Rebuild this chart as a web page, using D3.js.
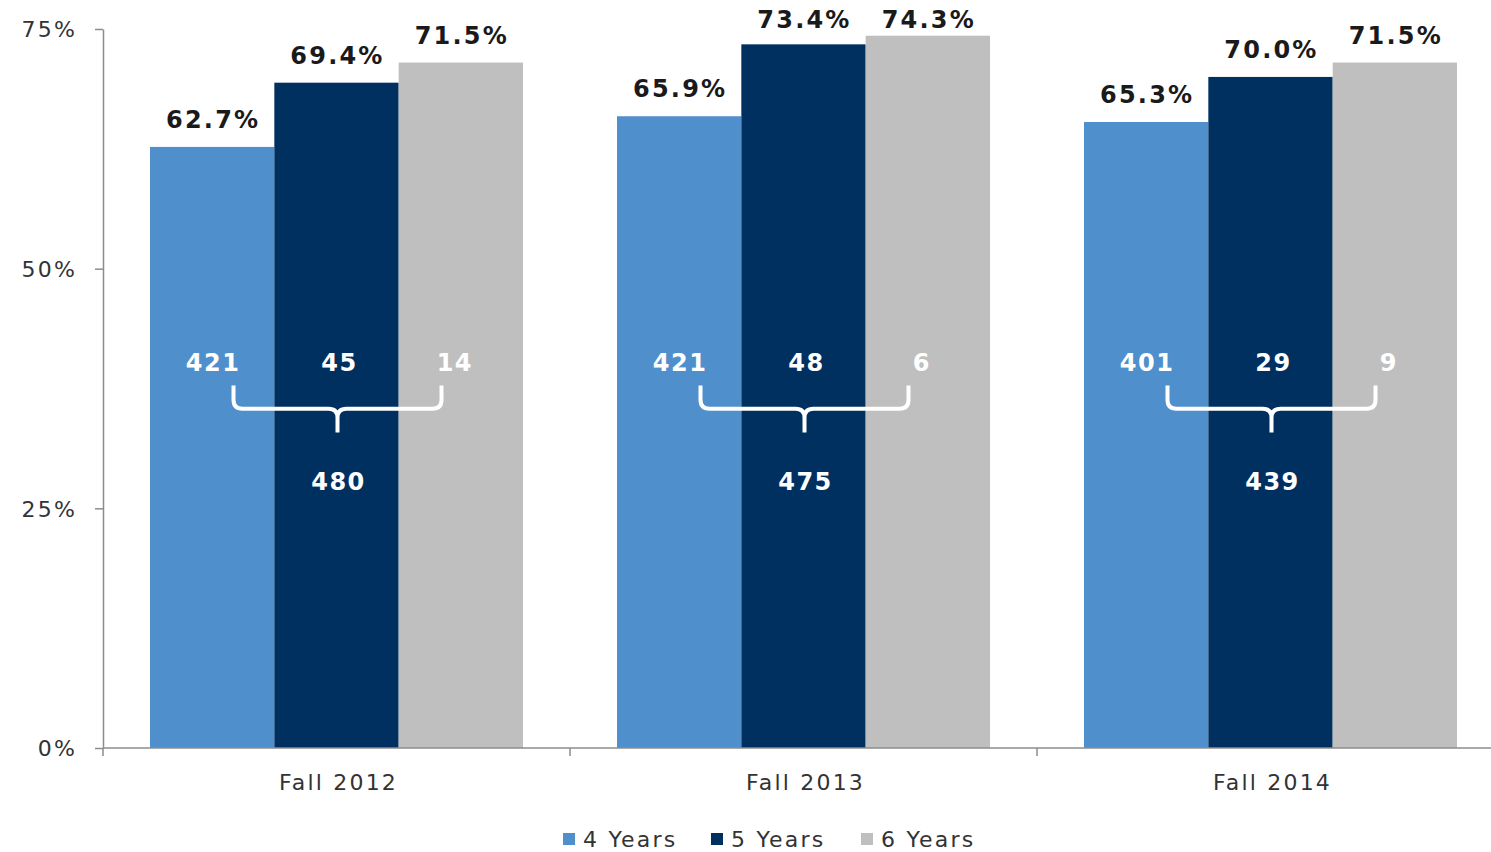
<!DOCTYPE html>
<meta charset="utf-8">
<script src="https://d3js.org/d3.v7.min.js"></script>
<style>
  body { margin: 0; background: #fff; }
  text { font-family: "DejaVu Sans", Verdana, sans-serif; }
</style>
<div id="chart"></div>
<script>

// data
var cohorts = ["Fall 2012", "Fall 2013", "Fall 2014"];
var seriesNames = ["4 Years", "5 Years", "6 Years"];
var rate4 = [62.7, 65.9, 65.3];
var rate5 = [69.4, 73.4, 70.0];
var rate6 = [71.5, 74.3, 71.5];
var count4 = [421, 421, 401];
var count5 = [45, 48, 29];
var count6 = [14, 6, 9];
var totals = [480, 475, 439];
var yTicks = [0, 25, 50, 75];

var colors = ["#4f8fcc", "#003060", "#bfbfbf"];

var W = 1491, H = 852;
var svg = d3.select("#chart").append("svg")
  .attr("width", W).attr("height", H);

// scales
var x = d3.scaleBand().domain(cohorts).range([103, 1504]);
var xInner = d3.scaleBand().domain(seriesNames).range([0, x.bandwidth()]).paddingOuter(0.378);
var y = d3.scaleLinear().domain([0, 75]).range([748, 29]);
var color = d3.scaleOrdinal().domain(seriesNames).range(colors);

// rows for bars
var rows = [];
cohorts.forEach(function(c, i) {
  var rates = [rate4[i], rate5[i], rate6[i]];
  var counts = [count4[i], count5[i], count6[i]];
  seriesNames.forEach(function(s, j) {
    rows.push({cohort: c, series: s, j: j, value: rates[j], count: counts[j]});
  });
});

// bars
svg.append("g").selectAll("rect")
  .data(rows).enter().append("rect")
    .attr("x", function(d) { return x(d.cohort) + xInner(d.series); })
    .attr("y", function(d) { return y(d.value); })
    .attr("width", xInner.bandwidth())
    .attr("height", function(d) { return y(0) - y(d.value); })
    .style("fill", function(d) { return color(d.series); });

// y axis
var yAxis = svg.append("g")
  .attr("transform", "translate(103,0)")
  .call(d3.axisLeft(y).tickValues(yTicks).tickSize(8).tickSizeOuter(0)
    .tickFormat(function(d) { return d + "%"; }));
yAxis.select(".domain").attr("stroke", "#8c8c8c").attr("stroke-width", 1.5);
yAxis.selectAll(".tick line").attr("stroke", "#8c8c8c").attr("stroke-width", 1.5);
yAxis.selectAll(".tick text")
  .attr("x", -26).attr("dy", "0.35em")
  .style("font-size", "22px").style("letter-spacing", "2.2px")
  .style("fill", "#333");

// x axis
var xAxis = svg.append("g");
xAxis.append("line")
  .attr("x1", 103).attr("x2", W)
  .attr("y1", y(0)).attr("y2", y(0))
  .attr("stroke", "#8c8c8c").attr("stroke-width", 1.5);
xAxis.selectAll(".xtick")
  .data(cohorts.concat(["end"])).enter().append("line")
    .attr("x1", function(d, i) { return x.range()[0] + i * x.step(); })
    .attr("x2", function(d, i) { return x.range()[0] + i * x.step(); })
    .attr("y1", y(0)).attr("y2", y(0) + 8)
    .attr("stroke", "#8c8c8c").attr("stroke-width", 1.5);
xAxis.selectAll(".xlabel")
  .data(cohorts).enter().append("text")
    .attr("x", function(d) { return x(d) + x.bandwidth() / 2 + 2; })
    .attr("y", 790)
    .attr("text-anchor", "middle")
    .style("font-size", "22px").style("letter-spacing", "2.2px")
    .style("fill", "#333")
    .text(function(d) { return d; });

// value labels above the bars (kept inside the top of the plot)
svg.append("g").selectAll("text")
  .data(rows).enter().append("text")
    .attr("x", function(d) { return x(d.cohort) + xInner(d.series) + xInner.bandwidth() / 2 + 1; })
    .attr("y", function(d) { return Math.max(y(d.value) - 19, 28); })
    .attr("text-anchor", "middle")
    .style("font-size", "24px").style("font-weight", "bold").style("letter-spacing", "2.2px")
    .style("fill", "#1a1a1a")
    .text(function(d) { return d.value.toFixed(1) + "%"; });

// counts inside the bars
var countShift = [1, 3, -6];
svg.append("g").selectAll("text")
  .data(rows).enter().append("text")
    .attr("x", function(d) { return x(d.cohort) + xInner(d.series) + xInner.bandwidth() / 2 + countShift[d.j]; })
    .attr("y", y(39.3))
    .attr("text-anchor", "middle")
    .style("font-size", "24px").style("font-weight", "bold").style("letter-spacing", "1.5px")
    .style("fill", "#fff")
    .text(function(d) { return d.count; });

// braces
var braceHalf = 104, r = 9;
var yTop = y(37.8), yMid = y(35.4), yBot = y(32.9);
svg.append("g").selectAll("path")
  .data(cohorts).enter().append("path")
    .attr("d", function(d) {
      var c = x(d) + x.bandwidth() / 2 + 1;
      var l = c - braceHalf, rr = c + braceHalf;
      return "M" + l + "," + yTop +
        "V" + (yMid - r) +
        "Q" + l + "," + yMid + " " + (l + r) + "," + yMid +
        "H" + (c - r) +
        "Q" + c + "," + yMid + " " + c + "," + (yMid + r) +
        "V" + yBot +
        "M" + c + "," + (yMid + r) +
        "Q" + c + "," + yMid + " " + (c + r) + "," + yMid +
        "H" + (rr - r) +
        "Q" + rr + "," + yMid + " " + rr + "," + (yMid - r) +
        "V" + yTop;
    })
    .attr("fill", "none")
    .attr("stroke", "#fff")
    .attr("stroke-width", 4);

// totals under the braces
svg.append("g").selectAll("text")
  .data(cohorts).enter().append("text")
    .attr("x", function(d) { return x(d) + x.bandwidth() / 2 + 2; })
    .attr("y", y(26.9))
    .attr("text-anchor", "middle")
    .style("font-size", "24px").style("font-weight", "bold").style("letter-spacing", "1.5px")
    .style("fill", "#fff")
    .text(function(d, i) { return totals[i]; });

// legend
var legendX = [563, 711, 861];
var legend = svg.append("g").selectAll("g")
  .data(seriesNames).enter().append("g")
    .attr("transform", function(d, i) { return "translate(" + legendX[i] + ",833)"; });
legend.append("rect")
  .attr("width", 12).attr("height", 12)
  .style("fill", function(d) { return color(d); });
legend.append("text")
  .attr("x", 20).attr("y", 14)
  .style("font-size", "22px").style("letter-spacing", "2.2px")
  .style("fill", "#333")
  .text(function(d) { return d; });

</script>
